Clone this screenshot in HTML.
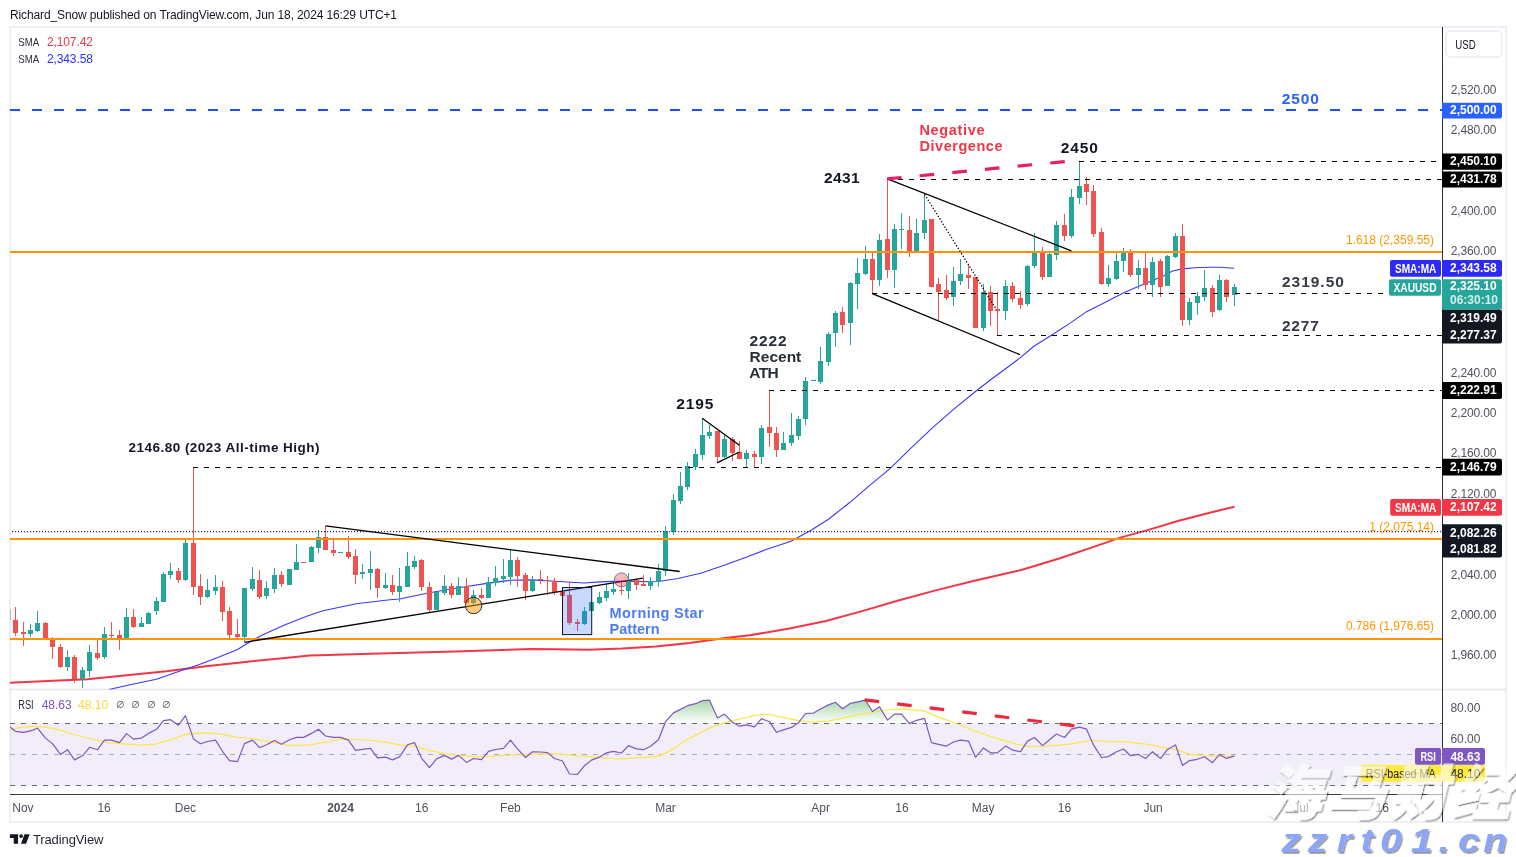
<!DOCTYPE html>
<html lang="en"><head><meta charset="utf-8"><title>XAUUSD chart</title>
<style>
html,body{margin:0;padding:0;background:#fff;}
body{width:1516px;height:857px;overflow:hidden;position:relative;font-family:"Liberation Sans","Noto Sans CJK SC",sans-serif;}
svg{position:absolute;left:0;top:0;display:block}
text{font-family:"Liberation Sans","Noto Sans CJK SC",sans-serif;}
.ax{font-size:12px;fill:#50535e}
.lb{font-size:12px;fill:#fff;font-weight:bold}
.an{font-weight:bold;font-size:15.5px;fill:#131722}
.wm{font-family:"Liberation Sans","Noto Sans CJK SC",sans-serif;font-weight:900;font-size:57.5px}
.wm2{font-family:"Liberation Sans",sans-serif;font-weight:bold;font-style:italic;font-size:34px}
</style></head><body>
<svg width="1516" height="857" viewBox="0 0 1516 857">
<defs>
<clipPath id="cm"><rect x="10" y="27" width="1432" height="662.5"/></clipPath>
<clipPath id="cr"><rect x="10" y="690" width="1432" height="104"/></clipPath>
<clipPath id="ob"><rect x="10" y="690" width="1432" height="33.2"/></clipPath>
<linearGradient id="gg" x1="0" y1="676" x2="0" y2="723.2" gradientUnits="userSpaceOnUse"><stop offset="0" stop-color="#4caf50" stop-opacity="1"/><stop offset="1" stop-color="#4caf50" stop-opacity="0"/></linearGradient>
<filter id="sh" filterUnits="userSpaceOnUse" x="-30" y="-90" width="420" height="130"><feDropShadow dx="1.3" dy="1.4" stdDeviation="0.45" flood-color="#000" flood-opacity="0.85"/></filter>
<filter id="sh2" filterUnits="userSpaceOnUse" x="-10" y="-40" width="260" height="60"><feDropShadow dx="1.3" dy="1.8" stdDeviation="0.5" flood-color="#000" flood-opacity="0.4"/></filter>
</defs>
<rect width="1516" height="857" fill="#fff"/>
<text x="10" y="18.8" font-size="12" fill="#131722" textLength="387" lengthAdjust="spacing">Richard_Snow published on TradingView.com, Jun 18, 2024 16:29 UTC+1</text>
<rect x="10" y="27" width="1496" height="795" fill="none" stroke="#eef0f5" stroke-width="2"/>
<line x1="10" y1="689.5" x2="1506" y2="689.5" stroke="#e4e6ec" stroke-width="1.5"/>
<g clip-path="url(#cm)">
<path d="M10.0,682.7 L47.6,681.1 L87.2,679.2 L126.7,675.2 L166.3,671.2 L186.1,668.7 L205.9,666.3 L245.5,661.9 L285.1,658.0 L310.0,655.5 L380.0,653.5 L455.0,651.6 L532.0,649.0 L555.0,649.3 L588.6,649.8 L622.3,648.6 L655.9,646.4 L689.6,643.0 L725.0,638.0 L750.0,635.2 L789.6,628.6 L825.9,621.0 L862.1,611.1 L898.4,600.5 L934.7,590.6 L974.3,580.8 L1020.4,570.2 L1060.0,558.3 L1093.0,547.1 L1119.4,537.9 L1145.8,530.6 L1178.8,520.7 L1211.7,512.2 L1234.5,506.7" fill="none" stroke="#f23645" stroke-width="2" stroke-linejoin="round"/>
<path d="M108.9,689.5 L126.7,685.5 L156.4,679.2 L182.2,670.3 L198.0,664.9 L217.8,657.4 L237.6,649.5 L245.5,644.5 L261.3,635.6 L285.1,624.7 L308.0,615.8 L323.0,610.8 L356.3,603.7 L390.0,599.7 L399.6,599.0 L429.5,592.8 L458.4,587.8 L488.5,583.1 L510.3,580.3 L532.6,579.9 L554.6,581.2 L580.0,582.7 L584.2,583.0 L599.9,581.9 L613.3,581.4 L633.5,581.4 L650.3,581.7 L658.2,581.5 L677.9,578.5 L700.7,573.2 L723.4,565.6 L746.2,557.2 L766.8,549.3 L791.0,541.2 L809.8,531.0 L828.5,519.2 L850.0,502.3 L868.8,486.2 L890.3,468.3 L911.7,447.3 L933.2,427.2 L954.7,408.4 L976.1,391.0 L990.3,380.0 L1020.1,357.9 L1033.5,346.5 L1052.2,334.8 L1070.8,322.6 L1086.0,312.1 L1100.0,305.1 L1124.3,292.5 L1148.7,282.1 L1163.5,275.9 L1172.6,271.0 L1182.4,268.9 L1195.0,267.8 L1209.0,267.2 L1220.2,267.2 L1234.0,268.2" fill="none" stroke="#3b35fb" stroke-width="1.1" stroke-linejoin="round"/>
<g shape-rendering="crispEdges">
<rect x="10" y="609" width="1" height="11" fill="#ef5350" opacity="0.5"/>
<rect x="15" y="607" width="1" height="29" fill="#ef5350"/>
<rect x="13" y="620" width="5" height="13" fill="#ef5350"/>
<rect x="23" y="622" width="1" height="24" fill="#ef5350"/>
<rect x="21" y="632" width="5" height="2" fill="#ef5350"/>
<rect x="30" y="624" width="1" height="13" fill="#26a69a"/>
<rect x="28" y="630" width="5" height="4" fill="#26a69a"/>
<rect x="37" y="611" width="1" height="21" fill="#26a69a"/>
<rect x="35" y="623" width="5" height="8" fill="#26a69a"/>
<rect x="45" y="622" width="1" height="17" fill="#ef5350"/>
<rect x="43" y="623" width="5" height="16" fill="#ef5350"/>
<rect x="52" y="637" width="1" height="22" fill="#ef5350"/>
<rect x="50" y="638" width="5" height="9" fill="#ef5350"/>
<rect x="60" y="644" width="1" height="24" fill="#ef5350"/>
<rect x="58" y="647" width="5" height="20" fill="#ef5350"/>
<rect x="67" y="650" width="1" height="21" fill="#26a69a"/>
<rect x="65" y="657" width="5" height="10" fill="#26a69a"/>
<rect x="74" y="655" width="1" height="28" fill="#ef5350"/>
<rect x="72" y="657" width="5" height="22" fill="#ef5350"/>
<rect x="82" y="667" width="1" height="21" fill="#26a69a"/>
<rect x="80" y="670" width="5" height="9" fill="#26a69a"/>
<rect x="89" y="645" width="1" height="32" fill="#26a69a"/>
<rect x="87" y="652" width="5" height="19" fill="#26a69a"/>
<rect x="97" y="640" width="1" height="20" fill="#ef5350"/>
<rect x="95" y="653" width="5" height="5" fill="#ef5350"/>
<rect x="104" y="627" width="1" height="32" fill="#26a69a"/>
<rect x="102" y="634" width="5" height="23" fill="#26a69a"/>
<rect x="111" y="622" width="1" height="16" fill="#ef5350"/>
<rect x="109" y="635" width="5" height="1" fill="#ef5350"/>
<rect x="119" y="630" width="1" height="20" fill="#ef5350"/>
<rect x="117" y="635" width="5" height="4" fill="#ef5350"/>
<rect x="126" y="608" width="1" height="31" fill="#26a69a"/>
<rect x="124" y="617" width="5" height="22" fill="#26a69a"/>
<rect x="133" y="609" width="1" height="19" fill="#ef5350"/>
<rect x="131" y="617" width="5" height="10" fill="#ef5350"/>
<rect x="141" y="617" width="1" height="10" fill="#26a69a"/>
<rect x="139" y="623" width="5" height="4" fill="#26a69a"/>
<rect x="148" y="612" width="1" height="12" fill="#26a69a"/>
<rect x="146" y="613" width="5" height="11" fill="#26a69a"/>
<rect x="156" y="597" width="1" height="18" fill="#26a69a"/>
<rect x="154" y="601" width="5" height="10" fill="#26a69a"/>
<rect x="163" y="572" width="1" height="30" fill="#26a69a"/>
<rect x="161" y="574" width="5" height="28" fill="#26a69a"/>
<rect x="170" y="563" width="1" height="16" fill="#26a69a"/>
<rect x="168" y="571" width="5" height="4" fill="#26a69a"/>
<rect x="178" y="568" width="1" height="15" fill="#ef5350"/>
<rect x="176" y="571" width="5" height="9" fill="#ef5350"/>
<rect x="185" y="539" width="1" height="42" fill="#26a69a"/>
<rect x="183" y="543" width="5" height="37" fill="#26a69a"/>
<rect x="193" y="468" width="1" height="127" fill="#ef5350"/>
<rect x="191" y="543" width="5" height="44" fill="#ef5350"/>
<rect x="200" y="574" width="1" height="31" fill="#ef5350"/>
<rect x="198" y="586" width="5" height="11" fill="#ef5350"/>
<rect x="207" y="579" width="1" height="19" fill="#26a69a"/>
<rect x="205" y="590" width="5" height="7" fill="#26a69a"/>
<rect x="215" y="575" width="1" height="20" fill="#26a69a"/>
<rect x="213" y="587" width="5" height="4" fill="#26a69a"/>
<rect x="222" y="581" width="1" height="40" fill="#ef5350"/>
<rect x="220" y="587" width="5" height="25" fill="#ef5350"/>
<rect x="229" y="607" width="1" height="31" fill="#ef5350"/>
<rect x="227" y="611" width="5" height="24" fill="#ef5350"/>
<rect x="237" y="619" width="1" height="19" fill="#ef5350"/>
<rect x="235" y="634" width="5" height="3" fill="#ef5350"/>
<rect x="244" y="588" width="1" height="54" fill="#26a69a"/>
<rect x="242" y="588" width="5" height="49" fill="#26a69a"/>
<rect x="252" y="567" width="1" height="24" fill="#26a69a"/>
<rect x="250" y="579" width="5" height="10" fill="#26a69a"/>
<rect x="259" y="570" width="1" height="29" fill="#ef5350"/>
<rect x="257" y="580" width="5" height="17" fill="#ef5350"/>
<rect x="266" y="581" width="1" height="18" fill="#26a69a"/>
<rect x="264" y="588" width="5" height="8" fill="#26a69a"/>
<rect x="274" y="568" width="1" height="25" fill="#26a69a"/>
<rect x="272" y="575" width="5" height="14" fill="#26a69a"/>
<rect x="281" y="571" width="1" height="16" fill="#ef5350"/>
<rect x="279" y="575" width="5" height="9" fill="#ef5350"/>
<rect x="289" y="569" width="1" height="16" fill="#26a69a"/>
<rect x="287" y="569" width="5" height="16" fill="#26a69a"/>
<rect x="296" y="544" width="1" height="26" fill="#26a69a"/>
<rect x="294" y="562" width="5" height="8" fill="#26a69a"/>
<rect x="303" y="562" width="1" height="1" fill="#ef5350"/>
<rect x="301" y="562" width="5" height="1" fill="#ef5350"/>
<rect x="311" y="546" width="1" height="16" fill="#26a69a"/>
<rect x="309" y="547" width="5" height="15" fill="#26a69a"/>
<rect x="318" y="530" width="1" height="23" fill="#26a69a"/>
<rect x="316" y="537" width="5" height="11" fill="#26a69a"/>
<rect x="325" y="526" width="1" height="24" fill="#ef5350"/>
<rect x="323" y="537" width="5" height="13" fill="#ef5350"/>
<rect x="333" y="540" width="1" height="16" fill="#ef5350"/>
<rect x="331" y="550" width="5" height="3" fill="#ef5350"/>
<rect x="340" y="552" width="1" height="1" fill="#26a69a"/>
<rect x="338" y="552" width="5" height="1" fill="#26a69a"/>
<rect x="348" y="536" width="1" height="23" fill="#ef5350"/>
<rect x="346" y="552" width="5" height="5" fill="#ef5350"/>
<rect x="355" y="549" width="1" height="35" fill="#ef5350"/>
<rect x="353" y="556" width="5" height="19" fill="#ef5350"/>
<rect x="362" y="564" width="1" height="15" fill="#26a69a"/>
<rect x="360" y="572" width="5" height="2" fill="#26a69a"/>
<rect x="370" y="551" width="1" height="39" fill="#26a69a"/>
<rect x="368" y="569" width="5" height="4" fill="#26a69a"/>
<rect x="377" y="568" width="1" height="30" fill="#ef5350"/>
<rect x="375" y="569" width="5" height="19" fill="#ef5350"/>
<rect x="385" y="573" width="1" height="16" fill="#26a69a"/>
<rect x="383" y="585" width="5" height="3" fill="#26a69a"/>
<rect x="392" y="575" width="1" height="20" fill="#ef5350"/>
<rect x="390" y="585" width="5" height="7" fill="#ef5350"/>
<rect x="399" y="568" width="1" height="34" fill="#26a69a"/>
<rect x="397" y="586" width="5" height="6" fill="#26a69a"/>
<rect x="407" y="552" width="1" height="35" fill="#26a69a"/>
<rect x="405" y="566" width="5" height="21" fill="#26a69a"/>
<rect x="414" y="556" width="1" height="13" fill="#26a69a"/>
<rect x="412" y="561" width="5" height="6" fill="#26a69a"/>
<rect x="421" y="559" width="1" height="32" fill="#ef5350"/>
<rect x="419" y="560" width="5" height="27" fill="#ef5350"/>
<rect x="429" y="582" width="1" height="30" fill="#ef5350"/>
<rect x="427" y="587" width="5" height="23" fill="#ef5350"/>
<rect x="436" y="592" width="1" height="18" fill="#26a69a"/>
<rect x="434" y="592" width="5" height="18" fill="#26a69a"/>
<rect x="444" y="575" width="1" height="20" fill="#26a69a"/>
<rect x="442" y="586" width="5" height="7" fill="#26a69a"/>
<rect x="451" y="583" width="1" height="15" fill="#ef5350"/>
<rect x="449" y="586" width="5" height="9" fill="#ef5350"/>
<rect x="458" y="577" width="1" height="18" fill="#26a69a"/>
<rect x="456" y="586" width="5" height="9" fill="#26a69a"/>
<rect x="466" y="578" width="1" height="25" fill="#ef5350"/>
<rect x="464" y="586" width="5" height="17" fill="#ef5350"/>
<rect x="473" y="590" width="1" height="16" fill="#26a69a"/>
<rect x="471" y="595" width="5" height="8" fill="#26a69a"/>
<rect x="481" y="588" width="1" height="11" fill="#ef5350"/>
<rect x="479" y="595" width="5" height="3" fill="#ef5350"/>
<rect x="488" y="577" width="1" height="21" fill="#26a69a"/>
<rect x="486" y="582" width="5" height="16" fill="#26a69a"/>
<rect x="495" y="566" width="1" height="20" fill="#26a69a"/>
<rect x="493" y="578" width="5" height="5" fill="#26a69a"/>
<rect x="503" y="559" width="1" height="24" fill="#26a69a"/>
<rect x="501" y="576" width="5" height="3" fill="#26a69a"/>
<rect x="510" y="550" width="1" height="35" fill="#26a69a"/>
<rect x="508" y="560" width="5" height="17" fill="#26a69a"/>
<rect x="517" y="557" width="1" height="30" fill="#ef5350"/>
<rect x="515" y="560" width="5" height="16" fill="#ef5350"/>
<rect x="525" y="573" width="1" height="27" fill="#ef5350"/>
<rect x="523" y="575" width="5" height="16" fill="#ef5350"/>
<rect x="532" y="576" width="1" height="16" fill="#26a69a"/>
<rect x="530" y="580" width="5" height="11" fill="#26a69a"/>
<rect x="540" y="570" width="1" height="14" fill="#ef5350"/>
<rect x="538" y="579" width="5" height="1" fill="#ef5350"/>
<rect x="547" y="576" width="1" height="19" fill="#ef5350"/>
<rect x="545" y="580" width="5" height="1" fill="#ef5350"/>
<rect x="554" y="578" width="1" height="17" fill="#ef5350"/>
<rect x="552" y="581" width="5" height="11" fill="#ef5350"/>
<rect x="562" y="590" width="1" height="6" fill="#ef5350"/>
<rect x="560" y="592" width="5" height="4" fill="#ef5350"/>
<rect x="569" y="582" width="1" height="43" fill="#ef5350"/>
<rect x="567" y="595" width="5" height="28" fill="#ef5350"/>
<rect x="577" y="619" width="1" height="12" fill="#ef5350"/>
<rect x="575" y="622" width="5" height="2" fill="#ef5350"/>
<rect x="584" y="607" width="1" height="18" fill="#26a69a"/>
<rect x="582" y="611" width="5" height="13" fill="#26a69a"/>
<rect x="591" y="602" width="1" height="9" fill="#26a69a"/>
<rect x="589" y="602" width="5" height="9" fill="#26a69a"/>
<rect x="599" y="592" width="1" height="12" fill="#26a69a"/>
<rect x="597" y="597" width="5" height="6" fill="#26a69a"/>
<rect x="606" y="584" width="1" height="17" fill="#26a69a"/>
<rect x="604" y="591" width="5" height="7" fill="#26a69a"/>
<rect x="613" y="583" width="1" height="12" fill="#26a69a"/>
<rect x="611" y="589" width="5" height="3" fill="#26a69a"/>
<rect x="621" y="580" width="1" height="15" fill="#ef5350"/>
<rect x="619" y="590" width="5" height="1" fill="#ef5350"/>
<rect x="628" y="573" width="1" height="26" fill="#26a69a"/>
<rect x="626" y="581" width="5" height="10" fill="#26a69a"/>
<rect x="636" y="579" width="1" height="11" fill="#ef5350"/>
<rect x="634" y="580" width="5" height="5" fill="#ef5350"/>
<rect x="643" y="575" width="1" height="11" fill="#ef5350"/>
<rect x="641" y="584" width="5" height="2" fill="#ef5350"/>
<rect x="650" y="577" width="1" height="13" fill="#26a69a"/>
<rect x="648" y="581" width="5" height="5" fill="#26a69a"/>
<rect x="658" y="564" width="1" height="23" fill="#26a69a"/>
<rect x="656" y="571" width="5" height="11" fill="#26a69a"/>
<rect x="665" y="526" width="1" height="50" fill="#26a69a"/>
<rect x="663" y="531" width="5" height="40" fill="#26a69a"/>
<rect x="673" y="494" width="1" height="41" fill="#26a69a"/>
<rect x="671" y="500" width="5" height="32" fill="#26a69a"/>
<rect x="680" y="472" width="1" height="32" fill="#26a69a"/>
<rect x="678" y="486" width="5" height="15" fill="#26a69a"/>
<rect x="687" y="462" width="1" height="28" fill="#26a69a"/>
<rect x="685" y="466" width="5" height="21" fill="#26a69a"/>
<rect x="695" y="449" width="1" height="21" fill="#26a69a"/>
<rect x="693" y="454" width="5" height="13" fill="#26a69a"/>
<rect x="702" y="418" width="1" height="42" fill="#26a69a"/>
<rect x="700" y="435" width="5" height="20" fill="#26a69a"/>
<rect x="709" y="425" width="1" height="14" fill="#26a69a"/>
<rect x="707" y="432" width="5" height="4" fill="#26a69a"/>
<rect x="717" y="431" width="1" height="31" fill="#ef5350"/>
<rect x="715" y="431" width="5" height="26" fill="#ef5350"/>
<rect x="724" y="435" width="1" height="23" fill="#26a69a"/>
<rect x="722" y="439" width="5" height="18" fill="#26a69a"/>
<rect x="732" y="437" width="1" height="24" fill="#ef5350"/>
<rect x="730" y="439" width="5" height="14" fill="#ef5350"/>
<rect x="739" y="441" width="1" height="18" fill="#ef5350"/>
<rect x="737" y="452" width="5" height="7" fill="#ef5350"/>
<rect x="746" y="450" width="1" height="17" fill="#26a69a"/>
<rect x="744" y="453" width="5" height="6" fill="#26a69a"/>
<rect x="754" y="451" width="1" height="16" fill="#ef5350"/>
<rect x="752" y="454" width="5" height="3" fill="#ef5350"/>
<rect x="761" y="425" width="1" height="39" fill="#26a69a"/>
<rect x="759" y="428" width="5" height="29" fill="#26a69a"/>
<rect x="769" y="390" width="1" height="57" fill="#ef5350"/>
<rect x="767" y="427" width="5" height="6" fill="#ef5350"/>
<rect x="776" y="427" width="1" height="30" fill="#ef5350"/>
<rect x="774" y="433" width="5" height="17" fill="#ef5350"/>
<rect x="783" y="432" width="1" height="18" fill="#26a69a"/>
<rect x="781" y="443" width="5" height="7" fill="#26a69a"/>
<rect x="791" y="413" width="1" height="33" fill="#26a69a"/>
<rect x="789" y="435" width="5" height="8" fill="#26a69a"/>
<rect x="798" y="416" width="1" height="24" fill="#26a69a"/>
<rect x="796" y="419" width="5" height="17" fill="#26a69a"/>
<rect x="805" y="377" width="1" height="48" fill="#26a69a"/>
<rect x="803" y="381" width="5" height="38" fill="#26a69a"/>
<rect x="813" y="380" width="1" height="1" fill="#26a69a"/>
<rect x="811" y="380" width="5" height="1" fill="#26a69a"/>
<rect x="820" y="347" width="1" height="37" fill="#26a69a"/>
<rect x="818" y="361" width="5" height="21" fill="#26a69a"/>
<rect x="828" y="332" width="1" height="34" fill="#26a69a"/>
<rect x="826" y="334" width="5" height="28" fill="#26a69a"/>
<rect x="835" y="311" width="1" height="36" fill="#26a69a"/>
<rect x="833" y="313" width="5" height="20" fill="#26a69a"/>
<rect x="842" y="307" width="1" height="26" fill="#ef5350"/>
<rect x="840" y="312" width="5" height="13" fill="#ef5350"/>
<rect x="850" y="282" width="1" height="63" fill="#26a69a"/>
<rect x="848" y="283" width="5" height="40" fill="#26a69a"/>
<rect x="857" y="258" width="1" height="51" fill="#26a69a"/>
<rect x="855" y="273" width="5" height="11" fill="#26a69a"/>
<rect x="865" y="246" width="1" height="29" fill="#26a69a"/>
<rect x="863" y="259" width="5" height="15" fill="#26a69a"/>
<rect x="872" y="252" width="1" height="42" fill="#ef5350"/>
<rect x="870" y="259" width="5" height="21" fill="#ef5350"/>
<rect x="879" y="234" width="1" height="52" fill="#26a69a"/>
<rect x="877" y="240" width="5" height="40" fill="#26a69a"/>
<rect x="887" y="179" width="1" height="99" fill="#ef5350"/>
<rect x="885" y="239" width="5" height="31" fill="#ef5350"/>
<rect x="894" y="224" width="1" height="64" fill="#26a69a"/>
<rect x="892" y="229" width="5" height="41" fill="#26a69a"/>
<rect x="901" y="213" width="1" height="36" fill="#26a69a"/>
<rect x="899" y="229" width="5" height="1" fill="#26a69a"/>
<rect x="909" y="216" width="1" height="41" fill="#ef5350"/>
<rect x="907" y="230" width="5" height="22" fill="#ef5350"/>
<rect x="916" y="219" width="1" height="33" fill="#26a69a"/>
<rect x="914" y="233" width="5" height="19" fill="#26a69a"/>
<rect x="924" y="194" width="1" height="45" fill="#26a69a"/>
<rect x="922" y="220" width="5" height="13" fill="#26a69a"/>
<rect x="931" y="219" width="1" height="68" fill="#ef5350"/>
<rect x="929" y="219" width="5" height="68" fill="#ef5350"/>
<rect x="938" y="278" width="1" height="42" fill="#ef5350"/>
<rect x="936" y="284" width="5" height="8" fill="#ef5350"/>
<rect x="946" y="275" width="1" height="25" fill="#ef5350"/>
<rect x="944" y="290" width="5" height="8" fill="#ef5350"/>
<rect x="953" y="267" width="1" height="39" fill="#26a69a"/>
<rect x="951" y="281" width="5" height="16" fill="#26a69a"/>
<rect x="960" y="259" width="1" height="26" fill="#26a69a"/>
<rect x="958" y="274" width="5" height="7" fill="#26a69a"/>
<rect x="968" y="264" width="1" height="25" fill="#ef5350"/>
<rect x="966" y="275" width="5" height="3" fill="#ef5350"/>
<rect x="975" y="277" width="1" height="51" fill="#ef5350"/>
<rect x="973" y="277" width="5" height="51" fill="#ef5350"/>
<rect x="983" y="284" width="1" height="47" fill="#26a69a"/>
<rect x="981" y="292" width="5" height="36" fill="#26a69a"/>
<rect x="990" y="286" width="1" height="40" fill="#ef5350"/>
<rect x="988" y="292" width="5" height="19" fill="#ef5350"/>
<rect x="997" y="292" width="1" height="44" fill="#ef5350"/>
<rect x="995" y="309" width="5" height="2" fill="#ef5350"/>
<rect x="1005" y="280" width="1" height="40" fill="#26a69a"/>
<rect x="1003" y="286" width="5" height="25" fill="#26a69a"/>
<rect x="1012" y="282" width="1" height="20" fill="#ef5350"/>
<rect x="1010" y="286" width="5" height="13" fill="#ef5350"/>
<rect x="1020" y="291" width="1" height="18" fill="#ef5350"/>
<rect x="1018" y="298" width="5" height="7" fill="#ef5350"/>
<rect x="1027" y="265" width="1" height="41" fill="#26a69a"/>
<rect x="1025" y="266" width="5" height="38" fill="#26a69a"/>
<rect x="1034" y="233" width="1" height="35" fill="#26a69a"/>
<rect x="1032" y="252" width="5" height="14" fill="#26a69a"/>
<rect x="1042" y="247" width="1" height="33" fill="#ef5350"/>
<rect x="1040" y="252" width="5" height="25" fill="#ef5350"/>
<rect x="1049" y="252" width="1" height="25" fill="#26a69a"/>
<rect x="1047" y="254" width="5" height="23" fill="#26a69a"/>
<rect x="1056" y="221" width="1" height="39" fill="#26a69a"/>
<rect x="1054" y="225" width="5" height="30" fill="#26a69a"/>
<rect x="1064" y="214" width="1" height="27" fill="#ef5350"/>
<rect x="1062" y="225" width="5" height="11" fill="#ef5350"/>
<rect x="1071" y="189" width="1" height="49" fill="#26a69a"/>
<rect x="1069" y="197" width="5" height="39" fill="#26a69a"/>
<rect x="1079" y="162" width="1" height="42" fill="#26a69a"/>
<rect x="1077" y="186" width="5" height="12" fill="#26a69a"/>
<rect x="1086" y="177" width="1" height="28" fill="#ef5350"/>
<rect x="1084" y="184" width="5" height="8" fill="#ef5350"/>
<rect x="1093" y="185" width="1" height="52" fill="#ef5350"/>
<rect x="1091" y="191" width="5" height="43" fill="#ef5350"/>
<rect x="1101" y="228" width="1" height="57" fill="#ef5350"/>
<rect x="1099" y="232" width="5" height="52" fill="#ef5350"/>
<rect x="1108" y="265" width="1" height="22" fill="#26a69a"/>
<rect x="1106" y="278" width="5" height="6" fill="#26a69a"/>
<rect x="1116" y="253" width="1" height="27" fill="#26a69a"/>
<rect x="1114" y="261" width="5" height="18" fill="#26a69a"/>
<rect x="1123" y="248" width="1" height="24" fill="#26a69a"/>
<rect x="1121" y="251" width="5" height="10" fill="#26a69a"/>
<rect x="1130" y="249" width="1" height="28" fill="#ef5350"/>
<rect x="1128" y="252" width="5" height="23" fill="#ef5350"/>
<rect x="1138" y="260" width="1" height="29" fill="#26a69a"/>
<rect x="1136" y="268" width="5" height="7" fill="#26a69a"/>
<rect x="1145" y="253" width="1" height="37" fill="#ef5350"/>
<rect x="1143" y="268" width="5" height="17" fill="#ef5350"/>
<rect x="1152" y="257" width="1" height="40" fill="#26a69a"/>
<rect x="1150" y="262" width="5" height="23" fill="#26a69a"/>
<rect x="1160" y="259" width="1" height="38" fill="#ef5350"/>
<rect x="1158" y="261" width="5" height="26" fill="#ef5350"/>
<rect x="1167" y="255" width="1" height="31" fill="#26a69a"/>
<rect x="1165" y="256" width="5" height="30" fill="#26a69a"/>
<rect x="1175" y="233" width="1" height="25" fill="#26a69a"/>
<rect x="1173" y="236" width="5" height="21" fill="#26a69a"/>
<rect x="1182" y="224" width="1" height="102" fill="#ef5350"/>
<rect x="1180" y="236" width="5" height="84" fill="#ef5350"/>
<rect x="1189" y="298" width="1" height="27" fill="#26a69a"/>
<rect x="1187" y="302" width="5" height="18" fill="#26a69a"/>
<rect x="1197" y="292" width="1" height="23" fill="#26a69a"/>
<rect x="1195" y="296" width="5" height="7" fill="#26a69a"/>
<rect x="1204" y="270" width="1" height="31" fill="#26a69a"/>
<rect x="1202" y="288" width="5" height="9" fill="#26a69a"/>
<rect x="1212" y="285" width="1" height="32" fill="#ef5350"/>
<rect x="1210" y="288" width="5" height="24" fill="#ef5350"/>
<rect x="1219" y="275" width="1" height="36" fill="#26a69a"/>
<rect x="1217" y="280" width="5" height="30" fill="#26a69a"/>
<rect x="1226" y="279" width="1" height="23" fill="#ef5350"/>
<rect x="1224" y="280" width="5" height="17" fill="#ef5350"/>
<rect x="1234" y="284" width="1" height="22" fill="#26a69a"/>
<rect x="1232" y="287" width="5" height="8" fill="#26a69a"/>
</g>
<line x1="10" y1="110" x2="1442" y2="110" stroke="#1a54ff" stroke-width="2" stroke-dasharray="10 12" shape-rendering="crispEdges"/>
<line x1="10" y1="252" x2="1442" y2="252" stroke="#ff9302" stroke-width="2" shape-rendering="crispEdges"/>
<line x1="10" y1="539" x2="1442" y2="539" stroke="#ff9302" stroke-width="2" shape-rendering="crispEdges"/>
<line x1="10" y1="639" x2="1442" y2="639" stroke="#ff9302" stroke-width="2" shape-rendering="crispEdges"/>
<line x1="12" y1="531.6" x2="1442" y2="531.6" stroke="#2a2e39" stroke-width="1.2" stroke-dasharray="1.15 1.85"/>
<line x1="1079" y1="161.5" x2="1442" y2="161.5" stroke="#000" stroke-width="1" stroke-dasharray="5 6" shape-rendering="crispEdges"/>
<line x1="887" y1="179.5" x2="1442" y2="179.5" stroke="#000" stroke-width="1" stroke-dasharray="5 6" shape-rendering="crispEdges"/>
<line x1="872" y1="293.5" x2="1442" y2="293.5" stroke="#000" stroke-width="1" stroke-dasharray="5 6" shape-rendering="crispEdges"/>
<line x1="997" y1="335.5" x2="1442" y2="335.5" stroke="#000" stroke-width="1" stroke-dasharray="5 6" shape-rendering="crispEdges"/>
<line x1="769" y1="390.5" x2="1442" y2="390.5" stroke="#000" stroke-width="1" stroke-dasharray="5 6" shape-rendering="crispEdges"/>
<line x1="193" y1="467.5" x2="1442" y2="467.5" stroke="#000" stroke-width="1" stroke-dasharray="5 6" shape-rendering="crispEdges"/>
<line x1="325.5" y1="525.9" x2="679.7" y2="571.5" stroke="#000" stroke-width="1.3"/>
<line x1="244.5" y1="642.3" x2="642.8" y2="578.2" stroke="#000" stroke-width="1.3"/>
<line x1="887.3" y1="178.8" x2="1071.4" y2="250.8" stroke="#000" stroke-width="1.3"/>
<line x1="872.4" y1="293.6" x2="1020.1" y2="354.7" stroke="#000" stroke-width="1.3"/>
<line x1="702.2" y1="418.2" x2="739.4" y2="445.3" stroke="#000" stroke-width="1.3"/>
<line x1="717" y1="462.8" x2="739.4" y2="452" stroke="#000" stroke-width="1.3"/>
<line x1="924.6" y1="194.4" x2="996.2" y2="309.2" stroke="#000" stroke-width="1.3" stroke-dasharray="1.3 1.85"/>
<line x1="887" y1="178.9" x2="1065.8" y2="161.5" stroke="#e91e63" stroke-width="3.2" stroke-dasharray="14.6 18.2"/>
<rect x="562.5" y="587.5" width="29.2" height="47.1" fill="#2962ff" fill-opacity="0.25" stroke="#131722" stroke-width="1"/>
<circle cx="473.6" cy="605.5" r="8.2" fill="#ff9800" fill-opacity="0.5" stroke="#2a2e39" stroke-width="1"/>
<circle cx="621.4" cy="579.9" r="7" fill="#f23645" fill-opacity="0.35" stroke="#787b86" stroke-width="1"/>
<text x="128.5" y="451.5" class="an" textLength="191" lengthAdjust="spacing" style="font-size:13.5px">2146.80 (2023 All-time High)</text>
<text x="676.3" y="409.3" class="an" textLength="37" lengthAdjust="spacing">2195</text>
<text x="749.6" y="345.8" class="an" textLength="37" lengthAdjust="spacing" style="fill:#2a2e39">2222</text>
<text x="749.6" y="361.9" class="an" style="fill:#2a2e39">Recent</text>
<text x="749.2" y="377.8" class="an" textLength="29.5" lengthAdjust="spacing" style="fill:#2a2e39">ATH</text>
<text x="824" y="182.6" class="an" textLength="35.5" lengthAdjust="spacing">2431</text>
<text x="1060.8" y="153.1" class="an" textLength="37" lengthAdjust="spacing">2450</text>
<text x="1281.8" y="103.8" class="an" textLength="37" lengthAdjust="spacing" style="fill:#2962ff">2500</text>
<text x="1281.9" y="286.6" class="an" textLength="62" lengthAdjust="spacing" style="fill:#363a45">2319.50</text>
<text x="1281.9" y="331.4" class="an" textLength="37" lengthAdjust="spacing" style="fill:#363a45">2277</text>
<text x="919.5" y="134.5" class="an" textLength="65" lengthAdjust="spacing" style="fill:#f23645;font-size:14.5px">Negative</text>
<text x="919.5" y="150.6" class="an" textLength="83" lengthAdjust="spacing" style="fill:#f23645;font-size:14.5px">Divergence</text>
<text x="609.6" y="618.4" class="an" textLength="94" lengthAdjust="spacing" style="fill:#4d7cf6;font-size:14.5px">Morning Star</text>
<text x="609.6" y="634.4" class="an" style="fill:#4d7cf6;font-size:14.5px">Pattern</text>
<text x="1434" y="243.5" text-anchor="end" font-size="12" fill="#ff9800">1.618 (2,359.55)</text>
<text x="1434" y="530.7" text-anchor="end" font-size="12" fill="#ff9800">1 (2,075.14)</text>
<text x="1434" y="630.4" text-anchor="end" font-size="12" fill="#ff9800">0.786 (1,976.65)</text>
<text x="18.2" y="45.5" font-size="11" fill="#2a2e39" textLength="21" lengthAdjust="spacingAndGlyphs">SMA</text><text x="46.9" y="45.5" font-size="12" fill="#f23645" textLength="46" lengthAdjust="spacing">2,107.42</text>
<text x="18.2" y="63" font-size="11" fill="#2a2e39" textLength="21" lengthAdjust="spacingAndGlyphs">SMA</text><text x="46.9" y="63" font-size="12" fill="#2a2eff" textLength="46" lengthAdjust="spacing">2,343.58</text>
</g>
<g clip-path="url(#cr)">
<rect x="10" y="723" width="1432" height="63" fill="#7e57c2" fill-opacity="0.1"/>
<path d="M8.5,725.8 L15.5,731.3 L23.5,732.3 L30.5,730.9 L37.5,728.2 L45.5,738.1 L52.5,743.6 L60.5,754.4 L67.5,749.7 L74.5,759.9 L82.5,755.8 L89.5,747.3 L97.5,749.7 L104.5,740.1 L111.5,740.1 L119.5,742.6 L126.5,733.6 L133.5,739.1 L141.5,738.1 L148.5,733.4 L156.5,729.3 L163.5,720.7 L170.5,719.7 L178.5,725.2 L185.5,715.6 L193.5,739.1 L200.5,743.8 L207.5,741.5 L215.5,740.1 L222.5,751.3 L229.5,760.6 L237.5,761.6 L244.5,743.6 L252.5,740.1 L259.5,747.7 L266.5,744.8 L274.5,740.5 L281.5,744.2 L289.5,739.7 L296.5,737.4 L303.5,737.4 L311.5,733.4 L318.5,729.3 L325.5,736.0 L333.5,737.4 L340.5,737.4 L348.5,740.1 L355.5,750.3 L362.5,749.3 L370.5,748.3 L377.5,757.9 L385.5,757.1 L392.5,759.9 L399.5,756.9 L407.5,744.8 L414.5,742.6 L421.5,758.1 L429.5,767.7 L436.5,758.9 L444.5,755.4 L451.5,759.1 L458.5,755.4 L466.5,762.4 L473.5,758.5 L481.5,759.7 L488.5,751.3 L495.5,749.5 L503.5,748.3 L510.5,740.1 L517.5,748.9 L525.5,757.5 L532.5,751.8 L540.5,752.0 L547.5,752.6 L554.5,758.5 L562.5,761.0 L569.5,774.0 L577.5,774.3 L584.5,765.7 L591.5,760.1 L599.5,757.1 L606.5,752.8 L613.5,751.3 L621.5,753.0 L628.5,745.6 L636.5,748.9 L643.5,749.7 L650.5,746.2 L658.5,739.7 L665.5,721.7 L673.5,712.9 L680.5,709.4 L687.5,705.7 L695.5,703.7 L702.5,700.6 L709.5,700.2 L717.5,718.0 L724.5,714.1 L732.5,722.3 L739.5,726.2 L746.5,724.8 L754.5,726.8 L761.5,718.6 L769.5,721.7 L776.5,732.3 L783.5,729.9 L791.5,727.4 L798.5,722.7 L805.5,713.5 L813.5,713.1 L820.5,709.0 L828.5,704.9 L835.5,702.3 L842.5,708.8 L850.5,703.3 L857.5,701.9 L865.5,700.2 L872.5,711.5 L879.5,706.8 L887.5,720.1 L894.5,714.1 L901.5,714.1 L909.5,723.6 L916.5,720.3 L924.5,718.3 L931.5,742.7 L938.5,744.3 L946.5,746.1 L953.5,742.0 L960.5,740.2 L968.5,741.1 L975.5,757.3 L983.5,747.9 L990.5,752.8 L997.5,752.8 L1005.5,746.1 L1012.5,750.1 L1020.5,751.7 L1027.5,741.1 L1034.5,737.5 L1042.5,745.6 L1049.5,739.8 L1056.5,734.0 L1064.5,737.5 L1071.5,729.2 L1079.5,727.2 L1086.5,729.2 L1093.5,744.9 L1101.5,757.5 L1108.5,756.6 L1116.5,751.7 L1123.5,749.0 L1130.5,755.7 L1138.5,754.4 L1145.5,758.6 L1152.5,751.7 L1160.5,758.6 L1167.5,749.4 L1175.5,744.9 L1182.5,765.4 L1189.5,760.6 L1197.5,759.3 L1204.5,756.8 L1212.5,762.7 L1219.5,754.4 L1226.5,758.4 L1234.5,755.9 L1234.5,723.2 L8.5,723.2 Z" fill="url(#gg)" clip-path="url(#ob)"/>
<line x1="10" y1="723.5" x2="1442" y2="723.5" stroke="#666a76" stroke-width="1" stroke-dasharray="5 6" shape-rendering="crispEdges"/>
<line x1="10" y1="754.5" x2="1442" y2="754.5" stroke="#a9acb6" stroke-width="1" stroke-dasharray="5 6" shape-rendering="crispEdges"/>
<line x1="10" y1="785.5" x2="1442" y2="785.5" stroke="#666a76" stroke-width="1" stroke-dasharray="5 6" shape-rendering="crispEdges"/>
<path d="M10.0,729.9 L20.3,727.4 L32.5,726.4 L44.8,726.8 L59.1,729.9 L75.5,735.0 L93.9,739.5 L110.2,742.8 L126.6,744.2 L140.9,745.2 L155.2,744.2 L169.6,740.1 L184.9,734.6 L200.2,732.9 L214.5,733.4 L222.7,734.4 L237.0,737.4 L251.4,738.5 L266.3,741.1 L281.4,744.2 L288.6,745.6 L303.1,745.2 L310.0,744.8 L325.3,742.1 L340.1,739.1 L355.0,739.5 L369.9,740.1 L384.6,742.1 L399.4,744.8 L414.3,746.2 L429.0,750.3 L443.5,753.4 L458.3,755.4 L473.0,756.7 L487.9,756.7 L502.8,755.4 L517.0,755.0 L532.3,754.4 L546.8,753.8 L561.9,754.2 L576.9,755.8 L591.2,756.7 L606.5,758.1 L610.0,758.5 L621.2,758.9 L636.0,757.9 L650.9,757.1 L658.3,755.8 L665.6,753.4 L673.0,748.9 L687.7,739.1 L695.1,735.6 L710.0,727.8 L724.7,722.7 L739.4,719.2 L754.4,715.6 L761.7,714.5 L769.1,714.5 L783.8,717.6 L798.5,720.7 L813.5,722.1 L828.2,721.1 L842.9,718.2 L857.6,714.9 L872.6,712.5 L887.3,710.0 L902.0,708.8 L910.0,709.7 L924.1,710.9 L938.9,717.4 L953.7,722.5 L975.9,731.5 L998.1,738.9 L1012.9,743.2 L1027.7,746.7 L1042.3,746.1 L1057.1,745.4 L1071.9,743.8 L1086.7,741.1 L1094.1,740.5 L1108.9,741.6 L1123.7,741.6 L1138.5,743.4 L1153.3,745.2 L1160.7,747.2 L1175.3,749.4 L1190.1,754.4 L1204.9,755.7 L1219.7,756.2 L1234.5,756.4" fill="none" stroke="#fbe64d" stroke-width="1.25" stroke-linejoin="round"/>
<path d="M8.5,725.8 L15.5,731.3 L23.5,732.3 L30.5,730.9 L37.5,728.2 L45.5,738.1 L52.5,743.6 L60.5,754.4 L67.5,749.7 L74.5,759.9 L82.5,755.8 L89.5,747.3 L97.5,749.7 L104.5,740.1 L111.5,740.1 L119.5,742.6 L126.5,733.6 L133.5,739.1 L141.5,738.1 L148.5,733.4 L156.5,729.3 L163.5,720.7 L170.5,719.7 L178.5,725.2 L185.5,715.6 L193.5,739.1 L200.5,743.8 L207.5,741.5 L215.5,740.1 L222.5,751.3 L229.5,760.6 L237.5,761.6 L244.5,743.6 L252.5,740.1 L259.5,747.7 L266.5,744.8 L274.5,740.5 L281.5,744.2 L289.5,739.7 L296.5,737.4 L303.5,737.4 L311.5,733.4 L318.5,729.3 L325.5,736.0 L333.5,737.4 L340.5,737.4 L348.5,740.1 L355.5,750.3 L362.5,749.3 L370.5,748.3 L377.5,757.9 L385.5,757.1 L392.5,759.9 L399.5,756.9 L407.5,744.8 L414.5,742.6 L421.5,758.1 L429.5,767.7 L436.5,758.9 L444.5,755.4 L451.5,759.1 L458.5,755.4 L466.5,762.4 L473.5,758.5 L481.5,759.7 L488.5,751.3 L495.5,749.5 L503.5,748.3 L510.5,740.1 L517.5,748.9 L525.5,757.5 L532.5,751.8 L540.5,752.0 L547.5,752.6 L554.5,758.5 L562.5,761.0 L569.5,774.0 L577.5,774.3 L584.5,765.7 L591.5,760.1 L599.5,757.1 L606.5,752.8 L613.5,751.3 L621.5,753.0 L628.5,745.6 L636.5,748.9 L643.5,749.7 L650.5,746.2 L658.5,739.7 L665.5,721.7 L673.5,712.9 L680.5,709.4 L687.5,705.7 L695.5,703.7 L702.5,700.6 L709.5,700.2 L717.5,718.0 L724.5,714.1 L732.5,722.3 L739.5,726.2 L746.5,724.8 L754.5,726.8 L761.5,718.6 L769.5,721.7 L776.5,732.3 L783.5,729.9 L791.5,727.4 L798.5,722.7 L805.5,713.5 L813.5,713.1 L820.5,709.0 L828.5,704.9 L835.5,702.3 L842.5,708.8 L850.5,703.3 L857.5,701.9 L865.5,700.2 L872.5,711.5 L879.5,706.8 L887.5,720.1 L894.5,714.1 L901.5,714.1 L909.5,723.6 L916.5,720.3 L924.5,718.3 L931.5,742.7 L938.5,744.3 L946.5,746.1 L953.5,742.0 L960.5,740.2 L968.5,741.1 L975.5,757.3 L983.5,747.9 L990.5,752.8 L997.5,752.8 L1005.5,746.1 L1012.5,750.1 L1020.5,751.7 L1027.5,741.1 L1034.5,737.5 L1042.5,745.6 L1049.5,739.8 L1056.5,734.0 L1064.5,737.5 L1071.5,729.2 L1079.5,727.2 L1086.5,729.2 L1093.5,744.9 L1101.5,757.5 L1108.5,756.6 L1116.5,751.7 L1123.5,749.0 L1130.5,755.7 L1138.5,754.4 L1145.5,758.6 L1152.5,751.7 L1160.5,758.6 L1167.5,749.4 L1175.5,744.9 L1182.5,765.4 L1189.5,760.6 L1197.5,759.3 L1204.5,756.8 L1212.5,762.7 L1219.5,754.4 L1226.5,758.4 L1234.5,755.9" fill="none" stroke="#7e57c2" stroke-width="1.2" stroke-linejoin="round"/>
<line x1="864.6" y1="699.8" x2="1076" y2="726" stroke="#f0283c" stroke-width="3.2" stroke-dasharray="14.6 18.2"/>
<text x="18.2" y="708.8" font-size="12" fill="#2a2e39" textLength="15.5" lengthAdjust="spacingAndGlyphs">RSI</text><text x="41.7" y="708.8" font-size="12" fill="#7e57c2">48.63</text><text x="78.1" y="708.8" font-size="12" fill="#fdd835">48.10</text>
<text x="115.4" y="708.3" font-size="9.5" fill="#50535e">∅</text>
<text x="130.7" y="708.3" font-size="9.5" fill="#50535e">∅</text>
<text x="146.7" y="708.3" font-size="9.5" fill="#50535e">∅</text>
<text x="161.4" y="708.3" font-size="9.5" fill="#50535e">∅</text>
</g>
<line x1="1442.5" y1="27" x2="1442.5" y2="822" stroke="#2a2e39" stroke-width="1"/>
<line x1="10" y1="794.5" x2="1442" y2="794.5" stroke="#363a45" stroke-width="1"/>
<text x="1450.8" y="93.7" class="ax" textLength="45.6" lengthAdjust="spacing">2,520.00</text>
<text x="1450.8" y="134.1" class="ax" textLength="45.6" lengthAdjust="spacing">2,480.00</text>
<text x="1450.8" y="214.9" class="ax" textLength="45.6" lengthAdjust="spacing">2,400.00</text>
<text x="1450.8" y="255.3" class="ax" textLength="45.6" lengthAdjust="spacing">2,360.00</text>
<text x="1450.8" y="376.5" class="ax" textLength="45.6" lengthAdjust="spacing">2,240.00</text>
<text x="1450.8" y="416.9" class="ax" textLength="45.6" lengthAdjust="spacing">2,200.00</text>
<text x="1450.8" y="457.3" class="ax" textLength="45.6" lengthAdjust="spacing">2,160.00</text>
<text x="1450.8" y="497.7" class="ax" textLength="45.6" lengthAdjust="spacing">2,120.00</text>
<text x="1450.8" y="578.5" class="ax" textLength="45.6" lengthAdjust="spacing">2,040.00</text>
<text x="1450.8" y="618.9" class="ax" textLength="45.6" lengthAdjust="spacing">2,000.00</text>
<text x="1450.8" y="659.3" class="ax" textLength="45.6" lengthAdjust="spacing">1,960.00</text>
<text x="1450.4" y="711.7" class="ax">80.00</text><text x="1450.4" y="742.6" class="ax">60.00</text>
<rect x="1446" y="30.9" width="55.8" height="26" rx="4.5" fill="#fff" stroke="#eaebf3" stroke-width="1.5"/>
<text x="1455.3" y="48.8" font-size="12" fill="#131722" textLength="20.5" lengthAdjust="spacingAndGlyphs">USD</text>
<path d="M1442,102.7H1500Q1502,102.7 1502,104.7V116.4Q1502,118.4 1500,118.4H1442Z" fill="#2962ff"/>
<text x="1450" y="114.2" class="lb" style="fill:#fff">2,500.00</text>
<path d="M1442,153.6H1500Q1502,153.6 1502,155.6V167.8Q1502,169.8 1500,169.8H1442Z" fill="#000"/>
<text x="1450" y="165.3" class="lb" style="fill:#fff">2,450.10</text>
<path d="M1442,171.6H1500Q1502,171.6 1502,173.6V185.5Q1502,187.5 1500,187.5H1442Z" fill="#000"/>
<text x="1450" y="183.2" class="lb" style="fill:#fff">2,431.78</text>
<path d="M1442,259.9H1500Q1502,259.9 1502,261.9V274.8Q1502,276.8 1500,276.8H1442Z" fill="#2e2af5"/>
<text x="1450" y="272.0" class="lb" style="fill:#fff">2,343.58</text>
<path d="M1442,279.2H1500Q1502,279.2 1502,281.2V307.8Q1502,309.8 1500,309.8H1442Z" fill="#26a69a"/>
<text x="1450" y="290.2" class="lb">2,325.10</text><text x="1450" y="304.4" class="lb" style="fill:#fff;fill-opacity:.8">06:30:10</text>
<path d="M1442,309.8H1500Q1502,309.8 1502,311.8V341.40000000000003Q1502,343.40000000000003 1500,343.40000000000003H1442Z" fill="#131722"/>
<text x="1450" y="321.9" class="lb">2,319.49</text><text x="1450" y="338.7" class="lb">2,277.37</text>
<path d="M1442,382H1500Q1502,382 1502,384V397Q1502,399 1500,399H1442Z" fill="#000"/>
<text x="1450" y="394.1" class="lb" style="fill:#fff">2,222.91</text>
<path d="M1442,458.8H1500Q1502,458.8 1502,460.8V473.5Q1502,475.5 1500,475.5H1442Z" fill="#000"/>
<text x="1450" y="470.8" class="lb" style="fill:#fff">2,146.79</text>
<path d="M1442,499H1500Q1502,499 1502,501V513.8Q1502,515.8 1500,515.8H1442Z" fill="#f23645"/>
<text x="1450" y="511.0" class="lb" style="fill:#fff">2,107.42</text>
<path d="M1442,524.2H1500Q1502,524.2 1502,526.2V555.6Q1502,557.6 1500,557.6H1442Z" fill="#131722"/>
<text x="1450" y="536.5" class="lb">2,082.26</text><text x="1450" y="553.3" class="lb">2,081.82</text>
<rect x="1390" y="259.9" width="51" height="16.9" rx="2" fill="#2e2af5"/>
<text x="1394.9" y="272.6" class="lb" textLength="41.5" lengthAdjust="spacingAndGlyphs">SMA:MA</text>
<rect x="1389" y="279.2" width="52" height="16.5" rx="2" fill="#26a69a"/>
<text x="1393.5" y="291.7" class="lb" textLength="43" lengthAdjust="spacingAndGlyphs">XAUUSD</text>
<rect x="1390.2" y="499" width="50.8" height="16.8" rx="2" fill="#f23645"/>
<text x="1394.9" y="511.6" class="lb" textLength="41.5" lengthAdjust="spacingAndGlyphs">SMA:MA</text>
<rect x="1415" y="748" width="26" height="16.7" rx="2" fill="#7e57c2"/>
<text x="1420.4" y="760.6" class="lb" textLength="15.5" lengthAdjust="spacingAndGlyphs">RSI</text>
<path d="M1442,748H1483Q1485,748 1485,750V762.7Q1485,764.7 1483,764.7H1442Z" fill="#7e57c2"/>
<text x="1450.4" y="760.6" class="lb">48.63</text>
<rect x="1361" y="765" width="80" height="16.8" rx="2" fill="#ffeb3b"/>
<text x="1365.7" y="777.6" font-size="12" fill="#131722" textLength="70" lengthAdjust="spacingAndGlyphs">RSI-based MA</text>
<path d="M1442,765H1483Q1485,765 1485,767V779.8Q1485,781.8 1483,781.8H1442Z" fill="#ffeb3b"/>
<text x="1450.4" y="777.6" font-size="12" fill="#131722">48.10</text>
<text x="22.9" y="811.6" text-anchor="middle" class="ax">Nov</text>
<text x="104.1" y="811.6" text-anchor="middle" class="ax">16</text>
<text x="185.4" y="811.6" text-anchor="middle" class="ax">Dec</text>
<text x="340.5" y="811.6" text-anchor="middle" class="ax" font-weight="bold">2024</text>
<text x="421.8" y="811.6" text-anchor="middle" class="ax">16</text>
<text x="510.4" y="811.6" text-anchor="middle" class="ax">Feb</text>
<text x="665.5" y="811.6" text-anchor="middle" class="ax">Mar</text>
<text x="820.7" y="811.6" text-anchor="middle" class="ax">Apr</text>
<text x="902" y="811.6" text-anchor="middle" class="ax">16</text>
<text x="983.2" y="811.6" text-anchor="middle" class="ax">May</text>
<text x="1064.5" y="811.6" text-anchor="middle" class="ax">16</text>
<text x="1153.1" y="811.6" text-anchor="middle" class="ax">Jun</text>
<text x="1300.9" y="811.6" text-anchor="middle" class="ax">Jul</text>
<text x="1382.2" y="811.6" text-anchor="middle" class="ax">16</text>
<g fill="#131722"><path d="M9.9,834.2H18.1V843.8H13.7V838H9.9Z"/><circle cx="21.1" cy="836.1" r="1.85"/><path d="M24.4,834.2H29.7L26,843.8H21.1Z"/></g>
<text x="32.9" y="843.8" font-size="13" fill="#1e222d" textLength="70.5" lengthAdjust="spacing">TradingView</text>
<g transform="translate(1265,813.5) skewX(-14)" filter="url(#sh)" opacity="0.6"><text x="0" y="0" class="wm" fill="#fff" stroke="#fff" stroke-width="1.4" stroke-linejoin="miter" letter-spacing="5">海马财经</text></g>
<g transform="translate(1281,851.5) scale(1.15,1)" filter="url(#sh2)"><text x="0.4 23.3 48.5 69.1 86.1 112.8 137.0 153.9 175.9" y="0" class="wm2" fill="#8aa5fa">zzrt01.cn</text></g>
</svg></body></html>
